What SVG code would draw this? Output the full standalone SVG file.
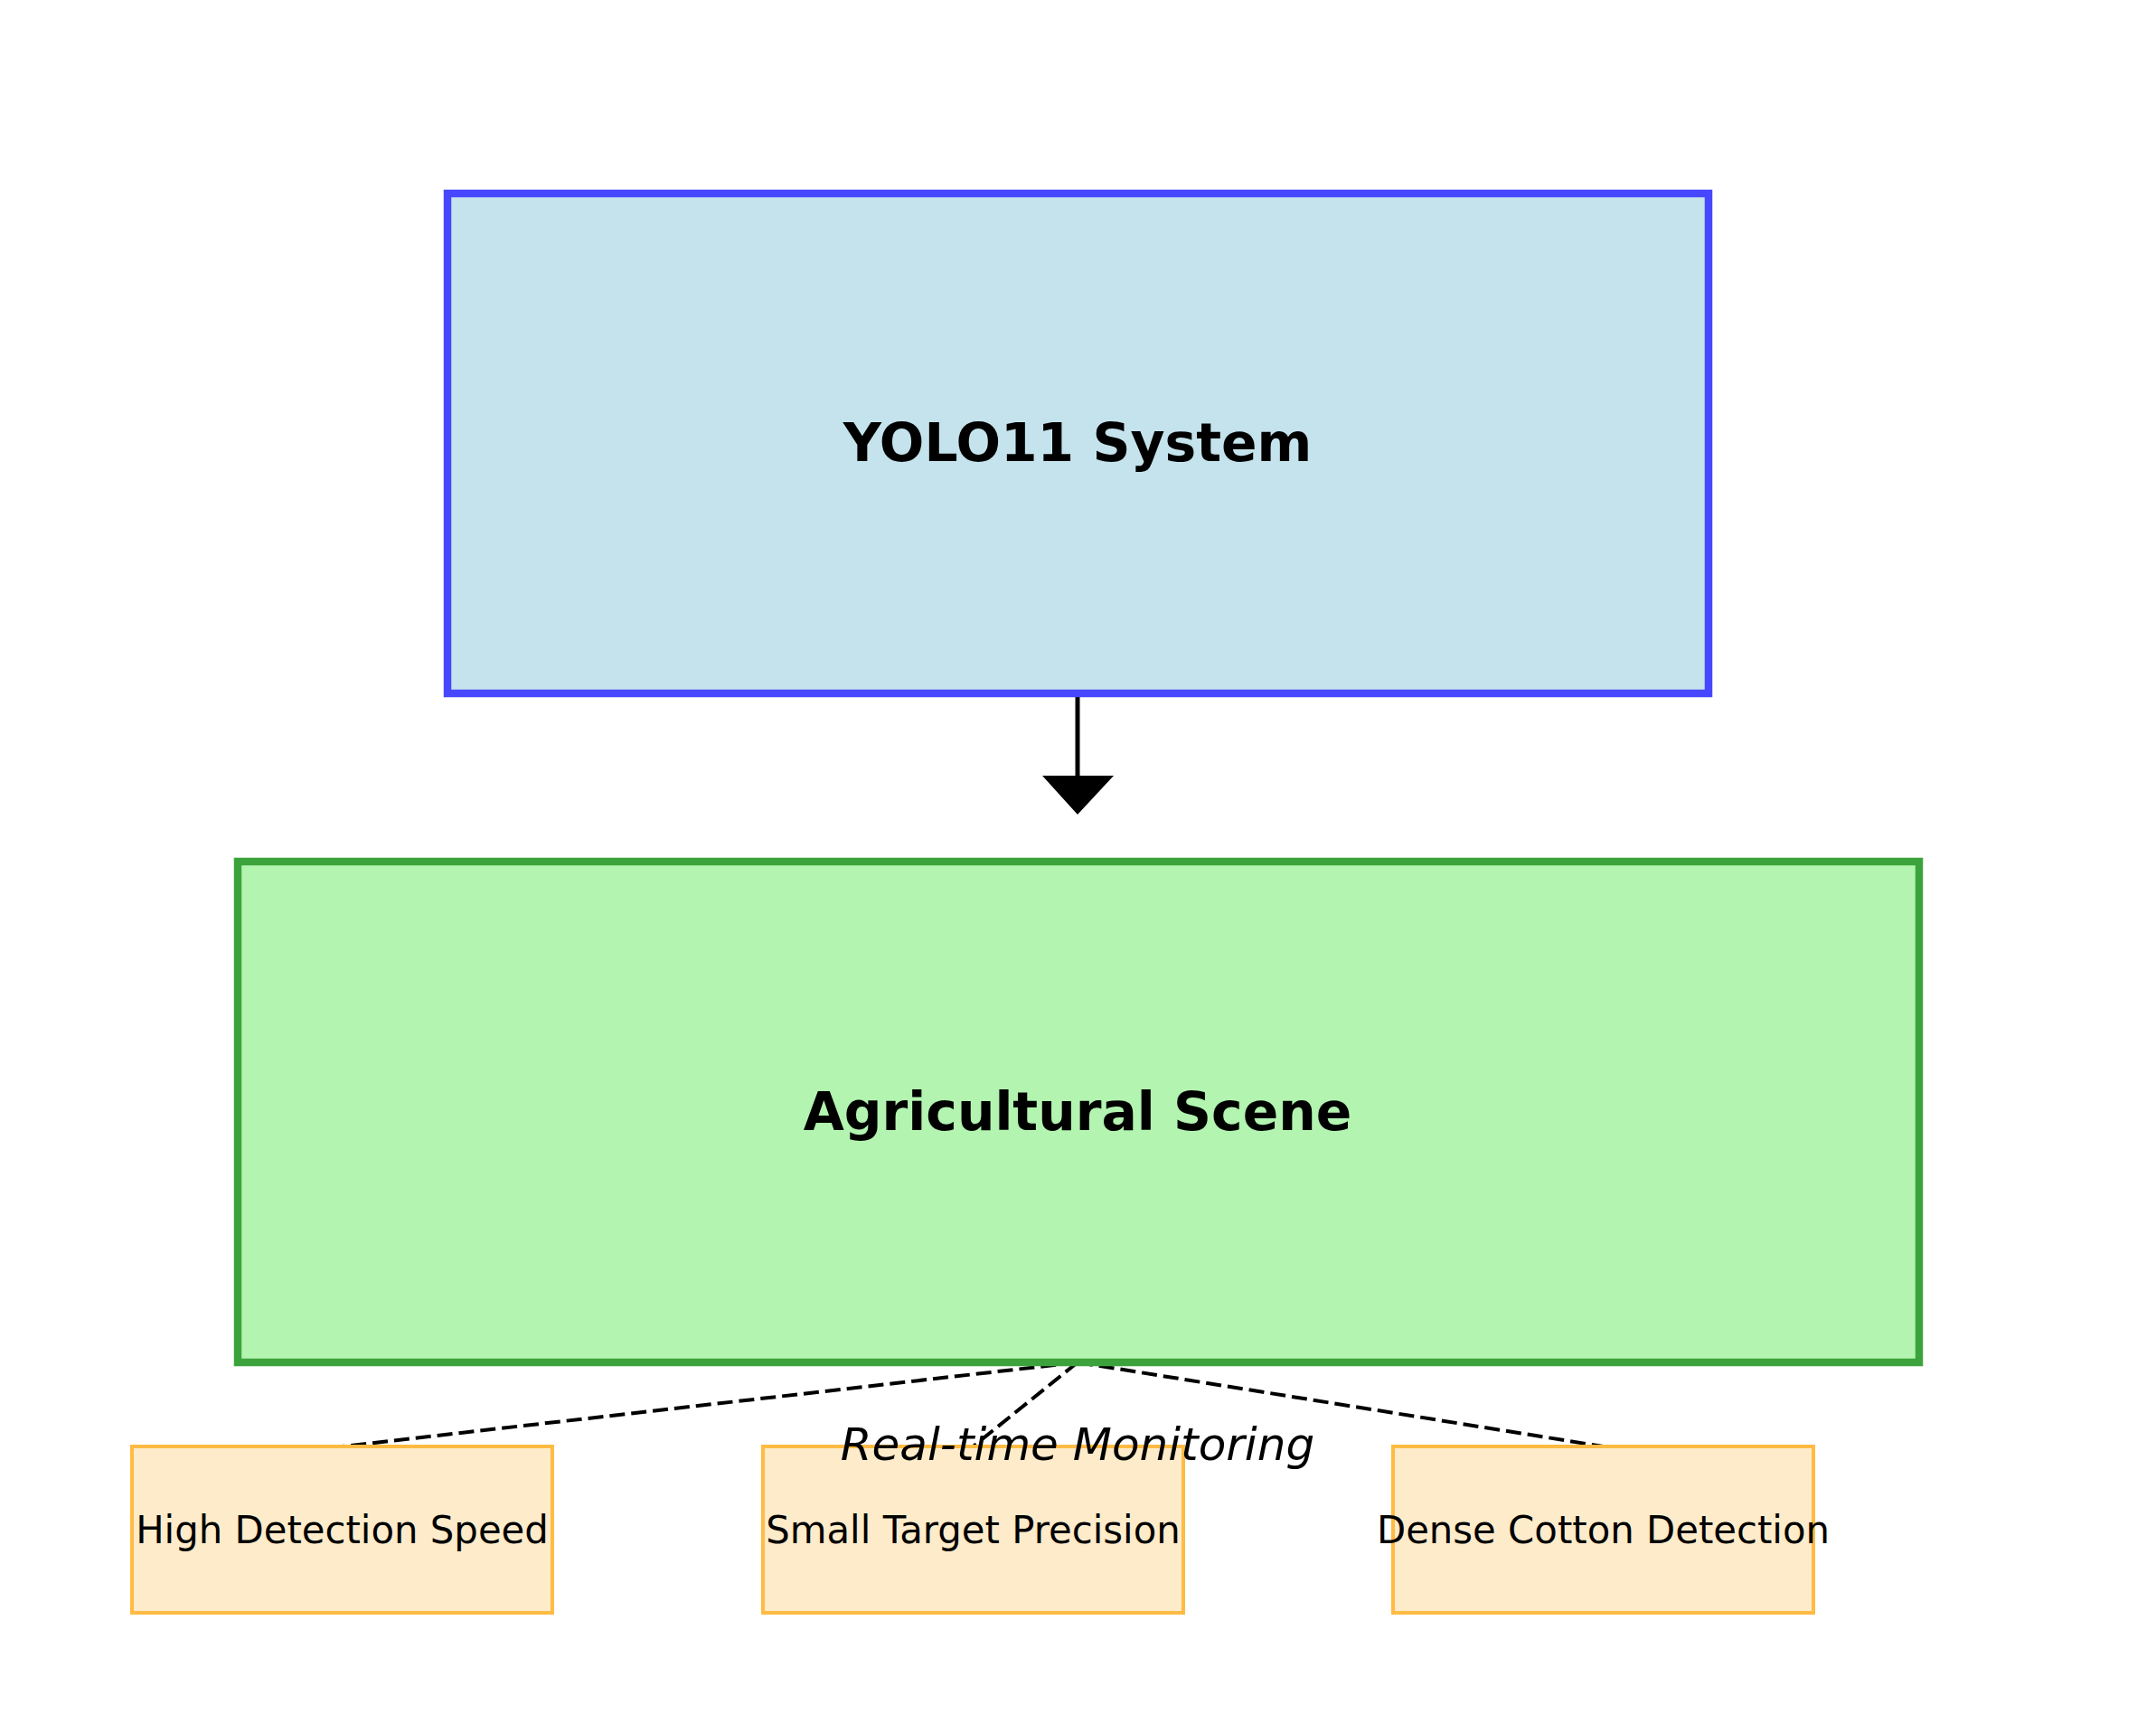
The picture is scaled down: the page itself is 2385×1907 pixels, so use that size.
<svg xmlns="http://www.w3.org/2000/svg" width="2385" height="1907" viewBox="0 0 2385 1907">
<style>
.t{font-family:"DejaVu Sans",sans-serif;fill:#000;text-anchor:middle}
.title{font-size:58.3px;font-weight:bold}
.lbl{font-size:41.8px}
.feat{fill:#feebca;stroke:#ffbb44;stroke-width:4}
.dash{stroke:#000;stroke-width:4;stroke-dasharray:17 7;fill:none}
</style>
<rect width="2385" height="1907" fill="#fff"/>
<g id="connectors">
<line x1="1192" y1="767" x2="1192" y2="860" stroke="#000" stroke-width="5"/>
<polygon points="1153,858 1232,858 1192,901" fill="#000"/>
<line class="dash" x1="1192" y1="1507" x2="378.5" y2="1600"/>
<line class="dash" x1="1192" y1="1507" x2="1076.5" y2="1600"/>
<line class="dash" x1="1192" y1="1507" x2="1773.5" y2="1600"/>
</g>
<g id="yolo">
<rect x="495" y="214" width="1395" height="553" fill="#c5e3ec" stroke="#4747ff" stroke-width="8.5"/>
<text class="t title" x="1192" y="510">YOLO11 System</text>
</g>
<g id="scene">
<rect x="263" y="953" width="1860" height="554" fill="#b2f4b0" stroke="#3ca33c" stroke-width="8.5"/>
<text class="t title" x="1192" y="1250">Agricultural Scene</text>
</g>
<g id="speed">
<rect class="feat" x="146" y="1600" width="465" height="184"/>
<text class="t lbl" x="378.5" y="1707">High Detection Speed</text>
</g>
<g id="precision">
<rect class="feat" x="844" y="1600" width="465" height="184"/>
<text class="t lbl" x="1076.5" y="1707">Small Target Precision</text>
</g>
<g id="dense">
<rect class="feat" x="1541" y="1600" width="465" height="184"/>
<text class="t lbl" x="1773.5" y="1707">Dense Cotton Detection</text>
</g>
<text id="monitoring" class="t" x="1192" y="1615" style="font-size:50px;font-style:italic">Real-time Monitoring</text>
</svg>
